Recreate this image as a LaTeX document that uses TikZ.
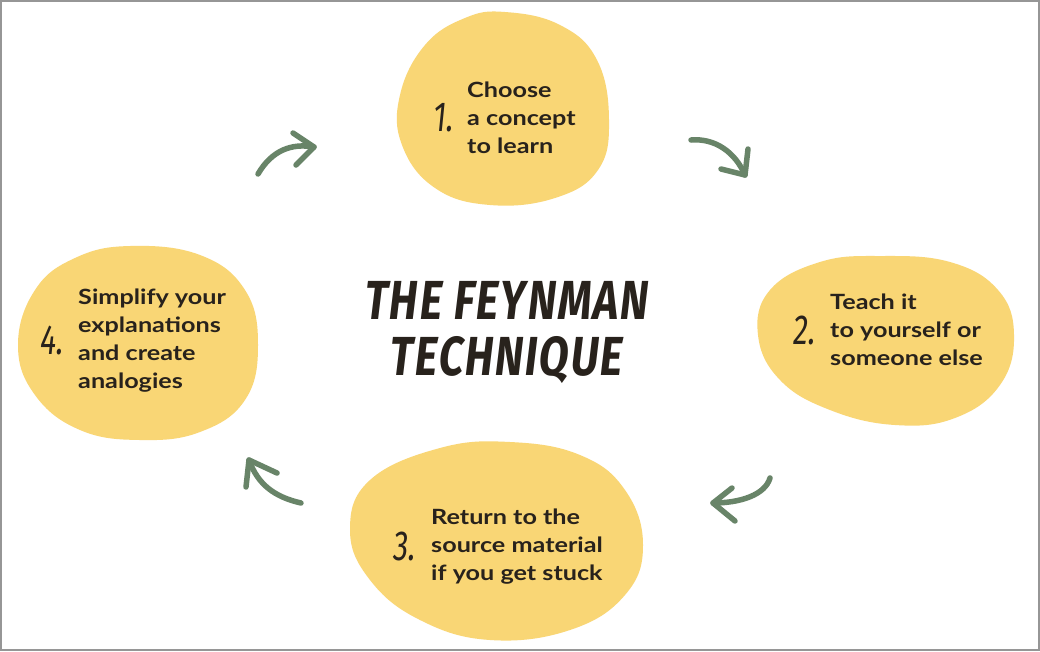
\documentclass[tikz,border=0pt]{standalone}
\usepackage{fontspec}
\setmainfont{Lato}[FakeStretch=1.2]
\newfontfamily\titlefont[FakeStretch=0.78,FakeSlant=0.12,LetterSpace=3]{Fira Sans}
\newfontfamily\numfont[FakeStretch=0.72,FakeSlant=0.1]{Fira Sans}
\definecolor{blobyellow}{RGB}{249,214,117}
\definecolor{arrowgreen}{RGB}{104,132,104}
\definecolor{inkdark}{RGB}{40,34,28}
\definecolor{framegray}{RGB}{150,150,150}
\tikzset{
  blob/.style={fill=blobyellow,draw=none},
  stepcopy/.style={anchor=west,align=left,text=inkdark,font=\fontsize{21}{28}\selectfont\bfseries,inner sep=0pt},
  stepnum/.style={text=inkdark,font=\numfont\fontsize{42}{42}\selectfont,inner sep=0pt},
  titletext/.style={text=inkdark,font=\titlefont\bfseries\fontsize{55}{60}\selectfont,inner sep=0pt},
  handarrow/.style={draw=arrowgreen,line width=5.5pt,line cap=round,line join=round},
}
\begin{document}
\begin{tikzpicture}[x=1pt,y=-1pt]
\useasboundingbox (0,0) rectangle (1040,651);
\fill[white] (0,0) rectangle (1040,651);
\draw[framegray,line width=2pt] (1,1) rectangle (1039,650);

% blobs
\fill[blob] plot[smooth cycle,tension=0.7] coordinates {(505,12) (560,25) (597,60) (609,120) (598,170) (555,198) (490,205) (435,188) (402,145) (400,95) (425,45) (465,18)};
\fill[blob] plot[smooth cycle,tension=0.7] coordinates {(880,256) (950,262) (998,290) (1014,335) (1000,385) (955,418) (895,425) (830,410) (780,380) (758,335) (770,290) (820,262)};
\fill[blob] plot[smooth cycle,tension=0.7] coordinates {(510,442) (580,455) (625,490) (643,545) (625,595) (570,630) (490,640) (420,620) (370,580) (350,530) (370,480) (440,448)};
\fill[blob] plot[smooth cycle,tension=0.7] coordinates {(130,246) (200,255) (245,290) (258,345) (245,400) (200,432) (140,440) (80,430) (35,395) (18,345) (35,290) (75,258)};

% title
\node[titletext] (title1) at (505,300) {THE FEYNMAN};
\node[titletext] (title2) at (505,360) {TECHNIQUE};

% step texts
\node[stepnum] (n1) at (443,118) {1.};
\node[stepcopy] (s1) at (467,118) {Choose\\a concept\\to learn};
\node[stepnum] (n2) at (804,330) {2.};
\node[stepcopy] (s2) at (830,330) {Teach it\\to yourself or\\someone else};
\node[stepnum] (n3) at (404,546) {3.};
\node[stepcopy] (s3) at (431,547) {Return to the\\source material\\if you get stuck};
\node[stepnum] (n4) at (51,340) {4.};
\node[stepcopy] (s4) at (78,341) {Simplify your\\explanations\\and create\\analogies};

% arrows
\coordinate (a1tail) at (258,174);
\coordinate (a1tip) at (314,147);
\draw[handarrow] (a1tail) .. controls (272,150) and (292,143) .. (a1tip);
\draw[handarrow] (293,133) -- (a1tip) -- (296,165);

\coordinate (a2tail) at (691,140);
\coordinate (a2tip) at (745,175);
\draw[handarrow] (a2tail) .. controls (715,138) and (735,152) .. (a2tip);
\draw[handarrow] (748,149) -- (a2tip) -- (721,169);

\coordinate (a3tail) at (770,478);
\coordinate (a3tip) at (713,503);
\draw[handarrow] (a3tail) .. controls (765,495) and (740,503) .. (a3tip);
\draw[handarrow] (732,488) -- (a3tip) -- (735,521);

\coordinate (a4tail) at (301,503);
\coordinate (a4tip) at (249,460);
\draw[handarrow] (a4tail) .. controls (275,497) and (258,485) .. (a4tip);
\draw[handarrow] (277,473) -- (a4tip) -- (246,487);
\end{tikzpicture}
\end{document}
